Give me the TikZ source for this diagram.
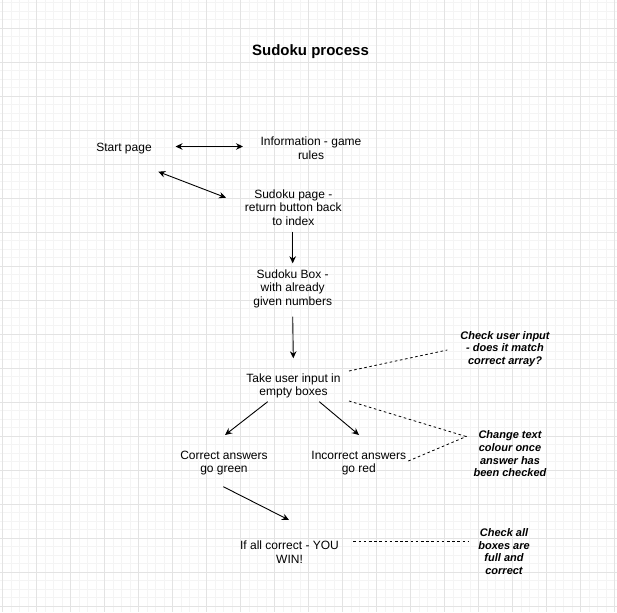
\documentclass[tikz,border=0pt]{standalone}
\usepackage{fontspec}
\setmainfont{Liberation Sans}
\usetikzlibrary{arrows.meta}
\definecolor{gridminor}{HTML}{F4F4F4}
\definecolor{gridmajor}{HTML}{E3E3E3}

\begin{document}
\begin{tikzpicture}[x=1pt, y=-1pt,
	every node/.style={font=\fontsize{12}{13.6}\selectfont, align=center, inner sep=0pt},
	note/.style={font=\fontsize{11}{12.8}\selectfont\bfseries\itshape},
	arr/.style={line width=0.9pt, -{Stealth[length=7pt, width=6.5pt]}},
	arrs/.style={line width=0.9pt, {Stealth[length=7pt, width=6.5pt]}-{Stealth[length=7pt, width=6.5pt]}},
	hint/.style={line width=0.8pt, dash pattern=on 2.6pt off 2.6pt}]
	\useasboundingbox (0,0) rectangle (617,612);
	\fill[white] (0,0) rectangle (617,612);
	\foreach \k in {0,...,72} {\draw[gridminor, line width=0.8pt] (2.5+8.5*\k,0) -- (2.5+8.5*\k,612);}
	\foreach \k in {-3,...,68} {\draw[gridminor, line width=0.8pt] (0,28.3+8.5*\k) -- (617,28.3+8.5*\k);}
	\foreach \k in {0,...,18} {\draw[gridmajor, line width=0.8pt] (2.5+34*\k,0) -- (2.5+34*\k,612);}
	\foreach \k in {0,...,17} {\draw[gridmajor, line width=0.8pt] (0,28.3+34*\k) -- (617,28.3+34*\k);}

	\node[font=\fontsize{15}{18}\selectfont\bfseries] (title) at (310.5,52) {Sudoku process};
	\node (start) at (124,148.5) {Start page};
	\node (info) at (311,148) {Information - game\\rules};
	\node (spage) at (293.3,207.5) {Sudoku page -\\return button back\\to index};
	\node (sbox) at (292.7,288.5) {Sudoku Box -\\with already\\given numbers};
	\node (take) at (293.5,386) {Take user input in\\empty boxes};
	\node (right) at (224,463) {Correct answers\\go green};
	\node (wrong) at (358.8,463) {Incorrect answers\\go red};
	\node (win) at (289.5,552) {If all correct - YOU\\WIN!};
	\node[note] (chk1) at (505,349) {Check user input\\- does it match\\correct array?};
	\node[note] (chk2) at (510,453.8) {Change text\\colour once\\answer has\\been checked};
	\node[note] (chk3) at (504,551.5) {Check all\\boxes are\\full and\\correct};

	\draw[arrs] ([shift={(51.5,-2)}]start.center) -- ([shift={(-68,-1.5)}]info.center);
	\draw[arrs] ([shift={(34.3,23.2)}]start.center) -- ([shift={(-67.3,-9.8)}]spage.center);
	\draw[arr] ([shift={(-0.6,24.2)}]spage.center) -- ([shift={(0,-25.2)}]sbox.center);
	\draw[arr] ([shift={(0,28.2)}]sbox.center) -- ([shift={(-0.2,-27.7)}]take.center);
	\draw[arr] ([shift={(-25.8,15.7)}]take.center) -- ([shift={(1,-28)}]right.center);
	\draw[arr] ([shift={(25.8,15.7)}]take.center) -- ([shift={(0.2,-28)}]wrong.center);
	\draw[arr] ([shift={(-0.7,23.7)}]right.center) -- ([shift={(-0.5,-32)}]win.center);
	\draw[hint] ([shift={(55.5,-15)}]take.center) -- ([shift={(-57.7,1)}]chk1.center);
	\draw[hint] ([shift={(55.5,15)}]take.center) -- ([shift={(-43.3,-17.1)}]chk2.center);
	\draw[hint] ([shift={(49.5,-2)}]wrong.center) -- ([shift={(-43.3,-17.5)}]chk2.center);
	\draw[hint] ([shift={(63.8,-10.3)}]win.center) -- ([shift={(-35.7,-9.8)}]chk3.center);
\end{tikzpicture}
\end{document}
